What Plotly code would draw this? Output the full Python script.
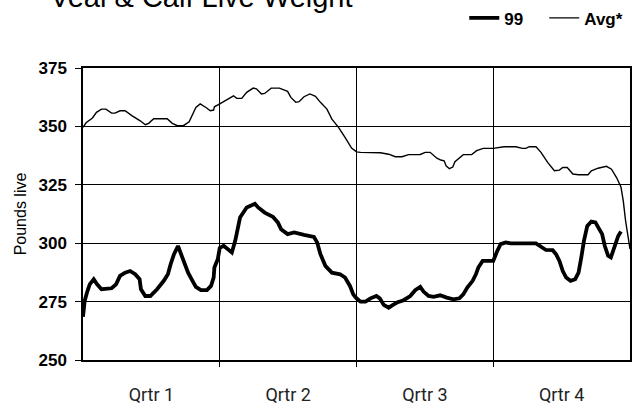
import plotly.graph_objects as go

# ---- data ----
quarter_labels = ["Qrtr 1", "Qrtr 2", "Qrtr 3", "Qrtr 4"]
quarter_centers = [6.5, 19.5, 32.5, 45.5]
quarter_bounds = [13, 26, 39]

# week-of-year positions and values, series "99"
weeks_99 = [0, 0.16, 0.38, 0.64, 1.02, 1.34, 1.76, 2.72, 3.14, 3.52, 4.00, 4.48, 4.96, 5.38, 5.51,
            5.92, 6.40, 7.04, 7.68, 8.07, 8.33, 8.65, 9.03, 9.35, 9.67, 9.99, 10.41, 10.73, 11.21,
            11.78, 12.17, 12.42, 12.49, 12.81, 13.0,
            13.37, 14.15, 14.47, 14.93, 15.56, 16.34, 16.65, 17.27, 18.05, 18.52, 18.83, 19.45,
            20.08, 21.01, 21.95, 22.26, 22.57, 23.04, 23.66, 24.44, 24.91, 25.38, 25.69, 26.0,
            26.38, 26.85, 27.33, 27.89, 28.21, 28.59, 29.06, 29.47, 29.85, 30.48, 31.11, 31.58,
            32.06, 32.37, 32.85, 33.32, 33.95, 34.58, 35.21, 35.78, 36.15, 36.53, 37.04, 37.35,
            37.58, 37.99, 39.0,
            39.38, 39.70, 40.18, 40.66, 43.06, 43.54, 44.01, 44.65, 44.97, 45.29, 45.61, 45.93,
            46.35, 46.79, 47.11, 47.37, 47.62, 47.94, 48.33, 48.71, 49.03, 49.35, 49.60, 49.92,
            50.18, 50.40, 50.63, 50.88, 51.14]
values_99 = [268.5, 275.3, 278.9, 282.4, 284.6, 282.4, 280.3, 280.7, 282.4, 286.0, 287.4, 288.1, 286.7,
             284.6, 280.3, 277.4, 277.4, 280.3, 283.9, 286.7, 291.0, 295.3, 298.8, 295.3, 291.0,
             287.4, 283.9, 281.3, 279.9, 279.9, 281.7, 285.3, 289.6, 293.1, 298.0,
             298.9, 296.0, 301.0, 311.0, 315.3, 316.9, 315.3, 313.1, 311.3, 308.9, 306.0, 303.9,
             304.6, 303.6, 302.7, 300.3, 295.3, 290.3, 287.4, 286.7, 285.3, 281.7, 278.1, 276.4,
             275.0, 275.0, 276.4, 277.4, 276.4, 273.6, 272.4, 273.6, 274.6, 275.6, 277.4, 279.9,
             281.3, 279.3, 277.4, 277.0, 277.7, 276.7, 276.0, 276.4, 278.1, 281.0, 283.9, 286.7,
             289.6, 292.4, 292.4,
             296.7, 299.6, 300.3, 299.9, 299.9, 298.4, 297.1, 297.0, 295.3, 292.4, 288.1, 285.3,
             283.9, 284.6, 287.4, 293.9, 301.0, 307.4, 309.3, 308.9, 306.0, 303.9, 298.9, 294.6,
             293.9, 296.7, 300.3, 303.1, 305.0]

# series "Avg*"
weeks_avg = [0, 0.32, 0.90, 1.28, 1.76, 2.18, 2.72, 3.04, 3.52, 4.00, 4.64, 5.44, 5.92, 6.24, 6.72,
             8.00, 8.49, 8.97, 9.54, 10.09, 10.73, 11.14, 11.69, 12.10, 12.42, 12.49, 13.0,
             13.69, 14.31, 14.62, 15.09, 15.56, 16.18, 16.49, 16.96, 17.27, 17.89, 18.67, 19.45,
             19.76, 20.23, 20.54, 21.01, 21.57, 22.10, 22.57, 23.19, 23.66, 24.29, 24.91, 25.53, 26.0,
             26.38, 28.27, 29.06, 29.69, 30.32, 30.95, 32.06, 32.53, 33.0, 33.64, 34.01, 34.33,
             34.52, 34.83, 35.15, 35.36, 35.84, 36.15, 36.95, 37.42, 38.05, 39.0,
             40.02, 41.14, 41.78, 42.10, 42.42, 43.06, 43.54, 44.17, 44.81, 45.29, 45.61, 46.03,
             46.57, 47.11, 48.01, 48.33, 48.96, 49.76, 50.24, 50.72, 51.14, 51.36, 51.58, 51.84, 52.0]
values_avg = [349.6, 351.7, 353.6, 356.0, 357.4, 357.4, 355.7, 355.7, 356.7, 356.7, 354.6, 352.4,
              350.7, 351.3, 353.3, 353.3, 351.3, 350.3, 350.3, 352.0, 358.1, 359.6, 358.1, 356.7,
              357.0, 358.4, 359.6,
              361.3, 363.1, 362.0, 362.0, 364.6, 366.4, 366.1, 363.9, 364.1, 366.4, 366.4, 365.0,
              362.4, 360.3, 360.6, 362.7, 363.9, 362.9, 360.3, 357.4, 353.1, 349.6, 345.3, 340.7, 339.1,
              338.9, 338.7, 338.1, 337.0, 337.0, 337.9, 338.0, 338.9, 338.9, 336.4, 335.6, 335.3,
              333.1, 331.9, 332.6, 334.9, 336.7, 337.9, 337.9, 339.6, 340.6, 340.6,
              341.3, 341.3, 340.6, 340.6, 341.3, 341.3, 338.9, 334.6, 331.0, 331.3, 332.4, 332.4,
              329.6, 329.3, 329.3, 331.0, 332.1, 332.9, 331.7, 328.1, 324.1, 318.1, 309.6, 301.0, 297.5]

y_ticks = [250, 275, 300, 325, 350, 375]

TICK_FONT = "Liberation Sans Narrow, Arial Narrow, Liberation Sans, Arial, sans-serif"

fig = go.Figure()
fig.add_trace(go.Scatter(x=weeks_99, y=values_99, mode="lines", name="99",
                         line=dict(color="black", width=3.8)))
fig.add_trace(go.Scatter(x=weeks_avg, y=values_avg, mode="lines", name="Avg*",
                         line=dict(color="black", width=1.4)))

fig.update_layout(
    width=641, height=409,
    margin=dict(l=83, r=11, t=68, b=49, autoexpand=False),
    paper_bgcolor="white", plot_bgcolor="white",
    showlegend=True,
    legend=dict(orientation="h", x=0.697, xanchor="left", y=1.17, yanchor="middle",
                font=dict(family=TICK_FONT, size=17, color="black", weight="bold"),
                entrywidth=35, entrywidthmode="pixels",
                itemwidth=30, tracegroupgap=0, bgcolor="rgba(0,0,0,0)"),
    annotations=[dict(text="Veal & Calf Live Weight", xref="paper", yref="paper",
                      x=-0.064, y=1.18, xanchor="left", yanchor="bottom", showarrow=False,
                      font=dict(family="Liberation Sans, Arial, sans-serif", size=29, color="black"))],
)
fig.update_xaxes(range=[0, 52], tickvals=quarter_centers, ticktext=quarter_labels,
                 ticks="", showgrid=False, zeroline=False, automargin=False,
                 showline=True, mirror=True, linecolor="black", linewidth=1.5,
                 ticklabelstandoff=18,
                 tickfont=dict(family="Roboto, Liberation Sans, sans-serif", size=18, color="#222"),
                 minor=dict(tickvals=quarter_bounds, showgrid=True, gridcolor="black", gridwidth=1.4,
                            ticks="outside", ticklen=5, tickcolor="black", tickwidth=1.4))
fig.update_yaxes(range=[250, 375], tickvals=y_ticks, showgrid=True, gridcolor="black", gridwidth=1.4,
                 zeroline=False, showline=True, mirror=True, linecolor="black", linewidth=1.5,
                 automargin=False,
                 ticks="outside", ticklen=6, tickcolor="black", tickwidth=1.4,
                 ticklabelstandoff=5,
                 tickfont=dict(family=TICK_FONT, size=17, color="black", weight="bold"),
                 title=dict(text="Pounds live", standoff=8,
                            font=dict(family="Liberation Sans, Arial, sans-serif", size=16, color="black")))

fig.write_html("out.html", config={"displayModeBar": False},
               post_script="document.body.style.margin='0';document.body.style.padding='0';")
